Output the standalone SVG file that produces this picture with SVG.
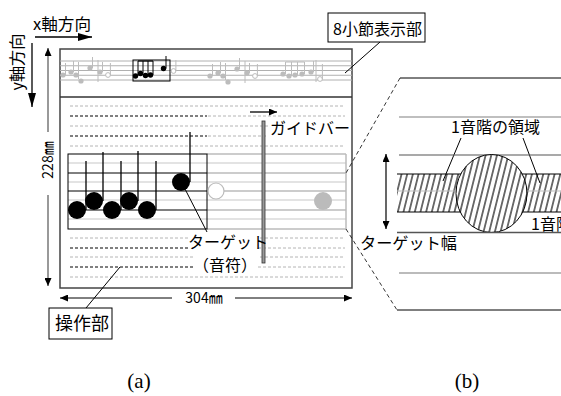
<svg xmlns="http://www.w3.org/2000/svg" width="561" height="396" viewBox="0 0 561 396">
<style>
.t{font-family:"Noto Sans CJK JP","Liberation Sans",sans-serif;fill:#000}
.s{font-family:"Liberation Serif",serif;fill:#000}
.gd{stroke:#b4b4b4;stroke-width:1;stroke-dasharray:3 2;fill:none}
.bd{stroke:#000;stroke-width:1;stroke-dasharray:3 2;fill:none}
.st{stroke:#b0b0b0;stroke-width:1}
.gn{fill:#bcbcbc}
.gs{stroke:#bcbcbc;stroke-width:1}
.bk{stroke:#000;stroke-width:1;fill:none}
</style>
<defs>
<marker id="ab" viewBox="0 0 14 8" markerWidth="14" markerHeight="8" refX="14" refY="4" orient="auto" markerUnits="userSpaceOnUse"><path d="M0,0 L14,4 L0,8 z" fill="#000"/></marker>
<marker id="as" viewBox="0 0 8 7" markerWidth="8" markerHeight="7" refX="8" refY="3.5" orient="auto-start-reverse" markerUnits="userSpaceOnUse"><path d="M0,0 L8,3.5 L0,7 z" fill="#000"/></marker>
<pattern id="h" width="5.5" height="10" patternUnits="userSpaceOnUse" patternTransform="rotate(14)"><line x1="2.75" y1="-1" x2="2.75" y2="11" stroke="#000" stroke-width="1.1"/></pattern>
<g id="gnotes">
<circle cx="63" cy="75" r="2.6" class="gn"/><line x1="65.5" y1="75" x2="65.5" y2="63" class="gs"/>
<circle cx="71" cy="72" r="2.6" class="gn"/><line x1="73.5" y1="72" x2="73.5" y2="61" class="gs"/>
<circle cx="76" cy="75" r="2.6" class="gn"/><line x1="78.5" y1="79" x2="78.5" y2="62" class="gs"/>
<circle cx="81" cy="81" r="2.6" class="gn"/>
<circle cx="90" cy="68" r="2.6" class="gn"/><line x1="92.5" y1="68" x2="92.5" y2="57" class="gs"/>
<line x1="98" y1="60" x2="98" y2="82" class="gs"/>
<circle cx="100" cy="72" r="2.6" class="gn"/><line x1="102.5" y1="72" x2="102.5" y2="62" class="gs"/>
<circle cx="108" cy="75" r="2.4" fill="#fff" stroke="#bcbcbc"/><line x1="110.4" y1="75" x2="110.4" y2="63" class="gs"/>
</g>
</defs>
<rect width="561" height="396" fill="#fff"/>

<g id="axes">
<text class="t" x="33" y="30" font-size="16" textLength="58" lengthAdjust="spacingAndGlyphs">x軸方向</text>
<line x1="35" y1="37" x2="92" y2="37" stroke="#000" stroke-width="1.3" marker-end="url(#ab)"/>
<text class="t" transform="translate(23,62) rotate(-90)" font-size="16" text-anchor="middle" textLength="57" lengthAdjust="spacingAndGlyphs">y軸方向</text>
<line x1="32" y1="43" x2="32" y2="107" stroke="#000" stroke-width="1.3" marker-end="url(#ab)"/>
</g>

<g id="dimensions">
<line x1="48" y1="132" x2="48" y2="48" stroke="#777" stroke-width="1.5" marker-end="url(#as)"/>
<line x1="48" y1="195" x2="48" y2="286" stroke="#777" stroke-width="1.5" marker-end="url(#as)"/>
<text class="t" transform="translate(53,160) rotate(-90)" font-size="14" text-anchor="middle">228㎜</text>
<line x1="172" y1="298" x2="60" y2="298" stroke="#000" stroke-width="1" marker-end="url(#as)"/>
<line x1="235" y1="298" x2="352" y2="298" stroke="#000" stroke-width="1" marker-end="url(#as)"/>
<text class="t" x="204" y="303" font-size="14" text-anchor="middle">304㎜</text>
</g>

<g id="screen">
<rect x="60" y="49" width="292" height="239" fill="#fff" stroke="#444" stroke-width="1.5"/>
<line x1="60" y1="97" x2="352" y2="97" stroke="#333" stroke-width="1.3"/>
</g>

<g id="bar-display">
<line x1="60" y1="61" x2="352" y2="61" class="st"/>
<line x1="60" y1="65.75" x2="352" y2="65.75" class="st"/>
<line x1="60" y1="70.5" x2="352" y2="70.5" class="st"/>
<line x1="60" y1="75.25" x2="352" y2="75.25" class="st"/>
<line x1="60" y1="80" x2="352" y2="80" class="st"/>
<use href="#gnotes"/>
<use href="#gnotes" transform="translate(147,1)"/>
<circle cx="283" cy="74" r="2.6" class="gn"/><line x1="285.5" y1="74" x2="285.5" y2="62" class="gs"/>
<circle cx="289" cy="76" r="2.6" class="gn"/><line x1="291.5" y1="76" x2="291.5" y2="62" class="gs"/>
<circle cx="295" cy="75" r="2.6" class="gn"/><line x1="297.5" y1="75" x2="297.5" y2="62" class="gs"/>
<circle cx="302" cy="74" r="2.6" class="gn"/><line x1="304.5" y1="74" x2="304.5" y2="62" class="gs"/>
<line x1="285.5" y1="62" x2="304.5" y2="62" class="gs"/>
<circle cx="311" cy="72" r="2.6" class="gn"/><line x1="313.5" y1="72" x2="313.5" y2="61" class="gs"/>
<line x1="316" y1="60" x2="316" y2="82" class="gs"/>
<circle cx="320" cy="79" r="2.4" fill="#fff" stroke="#bcbcbc"/><line x1="322.4" y1="79" x2="322.4" y2="64" class="gs"/>
<rect x="133" y="60" width="37" height="21" class="bk"/>
<circle cx="135.5" cy="76" r="2.7"/><line x1="138" y1="76" x2="138" y2="61" stroke="#000"/>
<circle cx="140.5" cy="73.5" r="2.7"/><line x1="143" y1="73.5" x2="143" y2="61" stroke="#000"/>
<circle cx="145.5" cy="75.5" r="2.7"/><line x1="148" y1="75.5" x2="148" y2="61" stroke="#000"/>
<circle cx="150.5" cy="75" r="2.7"/><line x1="153" y1="75" x2="153" y2="61" stroke="#000"/>
<line x1="138" y1="61" x2="153" y2="61" stroke="#000" stroke-width="1.3"/>
<circle cx="163.5" cy="68.5" r="2.7"/><line x1="166" y1="68.5" x2="166" y2="56" stroke="#000"/>
<circle cx="173.5" cy="71" r="2.4" fill="#fff" stroke="#bcbcbc"/><line x1="175.9" y1="71" x2="175.9" y2="60" class="gs"/>
</g>

<g id="operation-area">
<line x1="70" y1="106" x2="345" y2="106" class="gd"/>
<line x1="70" y1="116" x2="207" y2="116" class="bd"/><line x1="208" y1="116" x2="345" y2="116" class="gd"/>
<line x1="70" y1="126" x2="345" y2="126" class="gd"/>
<line x1="70" y1="136" x2="207" y2="136" class="bd"/><line x1="208" y1="136" x2="345" y2="136" class="gd"/>
<line x1="70" y1="146" x2="345" y2="146" class="gd"/>
<line x1="70" y1="238" x2="345" y2="238" class="gd"/>
<line x1="70" y1="248" x2="207" y2="248" class="bd"/><line x1="208" y1="248" x2="345" y2="248" class="gd"/>
<line x1="70" y1="257" x2="345" y2="257" class="gd"/>
<line x1="70" y1="267" x2="207" y2="267" class="bd"/><line x1="208" y1="267" x2="345" y2="267" class="gd"/>
<line x1="70" y1="277" x2="345" y2="277" class="gd"/>
</g>

<g id="staff">
<g stroke="#c8c8c8" stroke-width="1.2">
<line x1="68" y1="163" x2="346" y2="163"/>
<line x1="68" y1="182" x2="346" y2="182"/>
<line x1="68" y1="200" x2="346" y2="200"/>
<line x1="68" y1="219" x2="346" y2="219"/>
</g>
<g stroke="#bbb" stroke-width="1.5">
<line x1="207" y1="154" x2="346" y2="154"/>
<line x1="207" y1="173" x2="346" y2="173"/>
<line x1="207" y1="191" x2="346" y2="191"/>
<line x1="207" y1="210" x2="346" y2="210"/>
<line x1="207" y1="229" x2="346" y2="229"/>
<line x1="346" y1="154" x2="346" y2="229"/>
</g>
<g stroke="#000" stroke-width="1">
<line x1="68" y1="173" x2="207" y2="173"/>
<line x1="68" y1="191" x2="207" y2="191"/>
<line x1="68" y1="210" x2="207" y2="210"/>
</g>
<rect x="68" y="154" width="139" height="75" class="bk"/>
</g>

<g id="notes">
<g stroke="#000" stroke-width="1.3">
<line x1="86" y1="161" x2="86" y2="210"/>
<line x1="103" y1="152" x2="103" y2="201"/>
<line x1="121" y1="161" x2="121" y2="210"/>
<line x1="138" y1="151" x2="138" y2="201"/>
<line x1="156" y1="161" x2="156" y2="210"/>
<line x1="190" y1="132" x2="190" y2="182"/>
</g>
<circle cx="77" cy="210" r="9"/>
<circle cx="94" cy="201" r="9"/>
<circle cx="112" cy="210" r="9"/>
<circle cx="129" cy="201" r="9"/>
<circle cx="147" cy="210" r="9"/>
<circle cx="181" cy="182" r="9"/>
<circle cx="216" cy="191" r="8" fill="#fff" stroke="#bbb" stroke-width="1.2"/>
<circle cx="323" cy="201" r="9" fill="#bbb"/>
</g>

<g id="connectors" stroke="#000" stroke-width="1" fill="none">
<line x1="185" y1="189" x2="207" y2="232"/>
<line x1="380" y1="42" x2="345" y2="73"/>
<line x1="86" y1="308" x2="120" y2="267"/>
<line x1="400" y1="78" x2="346" y2="173" stroke-dasharray="4 3" stroke-width="0.8"/>
<line x1="346" y1="229" x2="397" y2="310" stroke-dasharray="4 3" stroke-width="0.8"/>
<line x1="461" y1="138" x2="443" y2="181"/>
<line x1="523" y1="138" x2="540" y2="183"/>
</g>

<g id="label-target">
<rect x="188" y="234" width="70" height="17" fill="#fff"/>
<rect x="193" y="255" width="65" height="17" fill="#fff"/>
</g>
<g id="label-guidebar">
<rect x="268" y="119" width="82" height="18" fill="#fff"/>
<line x1="250" y1="112" x2="277" y2="112" stroke="#000" stroke-width="1.3" marker-end="url(#as)"/>
<text class="t" x="270" y="134" font-size="16" textLength="80" lengthAdjust="spacingAndGlyphs">ガイドバー</text>
</g>
<g id="guidebar">
<rect x="262" y="121" width="3" height="142" fill="#999" stroke="#333" stroke-width="0.8"/>
</g>
<g id="target-text">
<text class="t" x="188" y="248" font-size="16" textLength="80" lengthAdjust="spacingAndGlyphs">ターゲット</text>
<text class="t" x="193" y="271" font-size="16" textLength="64" lengthAdjust="spacingAndGlyphs">（音符）</text>
</g>

<g id="label-8bar">
<rect x="328" y="13" width="97" height="29" fill="#fff" stroke="#000" stroke-width="1"/>
<text class="t" x="333" y="35" font-size="16" textLength="89" lengthAdjust="spacingAndGlyphs">8小節表示部</text>
</g>
<g id="label-operation">
<rect x="49" y="308" width="63" height="31" fill="#fff" stroke="#000" stroke-width="1"/>
<text class="t" x="55" y="330" font-size="18" textLength="54" lengthAdjust="spacingAndGlyphs">操作部</text>
</g>

<g id="zoom-panel">
<line x1="400" y1="78" x2="561" y2="78" stroke="#000" stroke-width="1"/>
<line x1="399" y1="117" x2="561" y2="117" stroke="#aaa" stroke-width="1.5"/>
<line x1="399" y1="155" x2="561" y2="155" stroke="#555" stroke-width="1.2"/>
<rect x="397" y="174" width="170" height="38" fill="url(#h)"/>
<line x1="397" y1="191" x2="561" y2="191" stroke="#bbb" stroke-width="1.2"/>
<line x1="397" y1="174" x2="561" y2="174" stroke="#000" stroke-width="1"/>
<line x1="397" y1="212" x2="561" y2="212" stroke="#000" stroke-width="1"/>
<ellipse cx="491.5" cy="193.5" rx="35.5" ry="39" fill="#fff"/>
<ellipse cx="491.5" cy="193.5" rx="35.5" ry="39" fill="url(#h)" stroke="#000" stroke-width="1"/>
<line x1="397" y1="232.5" x2="561" y2="232.5" stroke="#555" stroke-width="1.5"/>
<line x1="399" y1="273" x2="561" y2="273" stroke="#bbb" stroke-width="2"/>
<line x1="397" y1="310" x2="561" y2="310" stroke="#000" stroke-width="1"/>
<rect x="530" y="214" width="31" height="17" fill="#fff"/>
<text class="t" x="531" y="230" font-size="16">1音階</text>
<text class="t" x="451" y="133" font-size="16" textLength="89" lengthAdjust="spacingAndGlyphs">1音階の領域</text>
<line x1="386" y1="229" x2="386" y2="154" stroke="#000" stroke-width="1.2" marker-start="url(#as)" marker-end="url(#as)"/>
<text class="t" x="360" y="249" font-size="16" textLength="97" lengthAdjust="spacingAndGlyphs">ターゲット幅</text>
</g>

<g id="captions">
<text class="s" x="139" y="388" font-size="21" text-anchor="middle">(a)</text>
<text class="s" x="467" y="388" font-size="21" text-anchor="middle">(b)</text>
</g>
</svg>
